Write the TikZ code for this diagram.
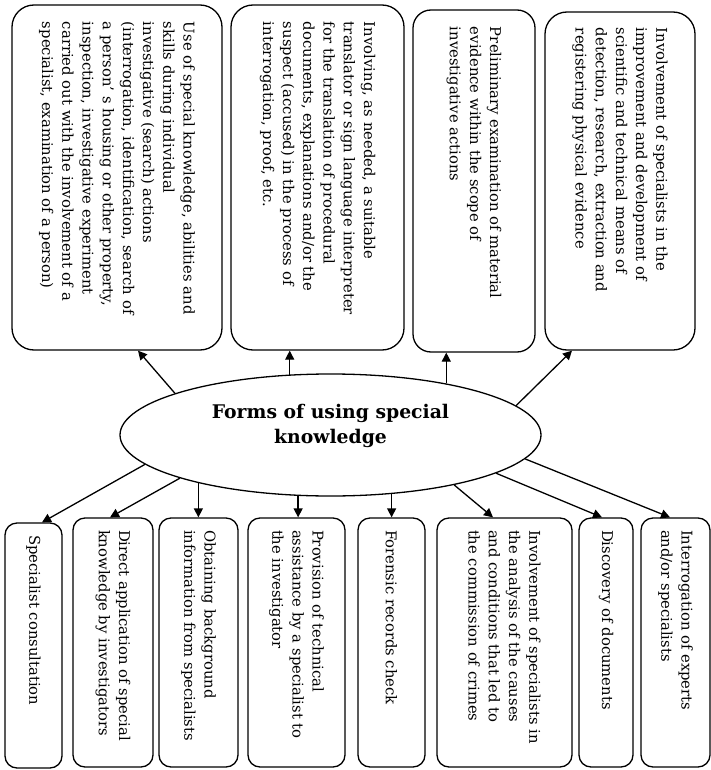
\documentclass[tikz,border=0pt]{standalone}
\usepackage{fontspec}
\usepackage{graphicx}
\setmainfont{DejaVu Serif}
\usetikzlibrary{shapes.geometric,arrows.meta}
\newcommand{\vtxt}[2]{\rotatebox{-90}{\parbox{#1}{\raggedright\fontsize{14.8}{20.2}\selectfont #2}}}
\tikzset{
  topbox/.style={draw, line width=1.3pt, rounded corners=22pt, inner sep=0pt},
  botbox/.style={draw, line width=1.3pt, rounded corners=12pt, inner sep=0pt},
  arr/.style={-{Triangle[length=9pt,width=9pt]}, line width=1.3pt},
}
\begin{document}
\begin{tikzpicture}[x=1pt,y=-1pt]
\useasboundingbox (0,0) rectangle (711,770);
\fill[white] (0,0) rectangle (711,770);
% top boxes
\node[topbox, minimum width=210pt, minimum height=345pt] (t1) at (117,177.5)
 {\vtxt{311pt}{Use of special knowledge, abilities and\\ skills during individual\\ investigative (search) actions\\ (interrogation, identification, search of\\ a person’ s housing or other property,\\ inspection, investigative experiment\\ carried out with the involvement of a\\ specialist, examination of a person)}};
\node[topbox, minimum width=173pt, minimum height=345pt] (t2) at (317.5,177.5)
 {\vtxt{311pt}{Involving, as needed, a suitable\\ translator or sign language interpreter\\ for the translation of procedural\\ documents, explanations and/or the\\ suspect (accused) in the process of\\ interrogation, proof, etc.}};
\node[topbox, rounded corners=18pt, minimum width=122pt, minimum height=342pt] (t3) at (474,181)
 {\vtxt{308pt}{Preliminary examination of material\\ evidence within the scope of\\ investigative actions}};
\node[topbox, minimum width=150pt, minimum height=338pt] (t4) at (620,181)
 {\vtxt{306pt}{Involvement of specialists in the\\ improvement and development of\\ scientific and technical means of\\ detection, research, extraction and\\ registering physical evidence}};
% centre
\node[draw, ellipse, line width=1.3pt, minimum width=421pt, minimum height=122pt, inner sep=0pt] (ell) at (330.5,435) {};
\node[align=center, inner sep=0pt, font=\bfseries\fontsize{18.8}{24.5}\selectfont] (title) at (330.5,426)
 {Forms of using special\\ knowledge};
% bottom boxes
\node[botbox, minimum width=57pt, minimum height=245pt] (b1) at (33.5,645.5)
 {\vtxt{221pt}{Specialist consultation}};
\node[botbox, minimum width=80pt, minimum height=249pt] (b2) at (113,642.5)
 {\vtxt{225pt}{Direct application of special\\ knowledge by investigators}};
\node[botbox, minimum width=79pt, minimum height=249pt] (b3) at (198.5,642.5)
 {\vtxt{225pt}{Obtaining background\\ information from specialists}};
\node[botbox, minimum width=97pt, minimum height=249pt] (b4) at (296.5,642.5)
 {\vtxt{225pt}{Provision of technical\\ assistance by a specialist to\\ the investigator}};
\node[botbox, minimum width=67pt, minimum height=249pt] (b5) at (391.5,642.5)
 {\vtxt{225pt}{Forensic records check}};
\node[botbox, minimum width=135pt, minimum height=249pt] (b6) at (504.5,642.5)
 {\vtxt{225pt}{Involvement of specialists in\\ the analysis of the causes\\ and conditions that led to\\ the commission of crimes}};
\node[botbox, minimum width=54pt, minimum height=249pt] (b7) at (606,642.5)
 {\vtxt{225pt}{Discovery of documents}};
\node[botbox, minimum width=69pt, minimum height=249pt] (b8) at (675.5,642.5)
 {\vtxt{225pt}{Interrogation of experts\\ and/or specialists}};
% arrows up
\draw[arr] (ell.165.4) -- (138,0 |- t1.south);
\draw[arr] (ell.124.8) -- (ell.124.8 |- t2.south);
\draw[arr] (ell.24.4) -- (ell.24.4 |- t3.south);
\draw[arr] (ell.9) -- (572,0 |- t4.south);
% arrows down
\draw[arr] (ell.189.8) -- (42,0 |- b1.north);
\draw[arr] (ell.196) -- (110,0 |- b2.north);
\draw[arr] (ell.200.8) -- (ell.200.8 |- b3.north);
\draw[arr] (ell.242.4) -- (ell.242.4 |- b4.north);
\draw[arr] (ell.316.5) -- (ell.316.5 |- b5.north);
\draw[arr] (ell.338.4) -- (493,0 |- b6.north);
\draw[arr] (ell.347.1) -- (602,0 |- b7.north);
\draw[arr] (ell.353.4) -- (670,0 |- b8.north);
\end{tikzpicture}
\end{document}
